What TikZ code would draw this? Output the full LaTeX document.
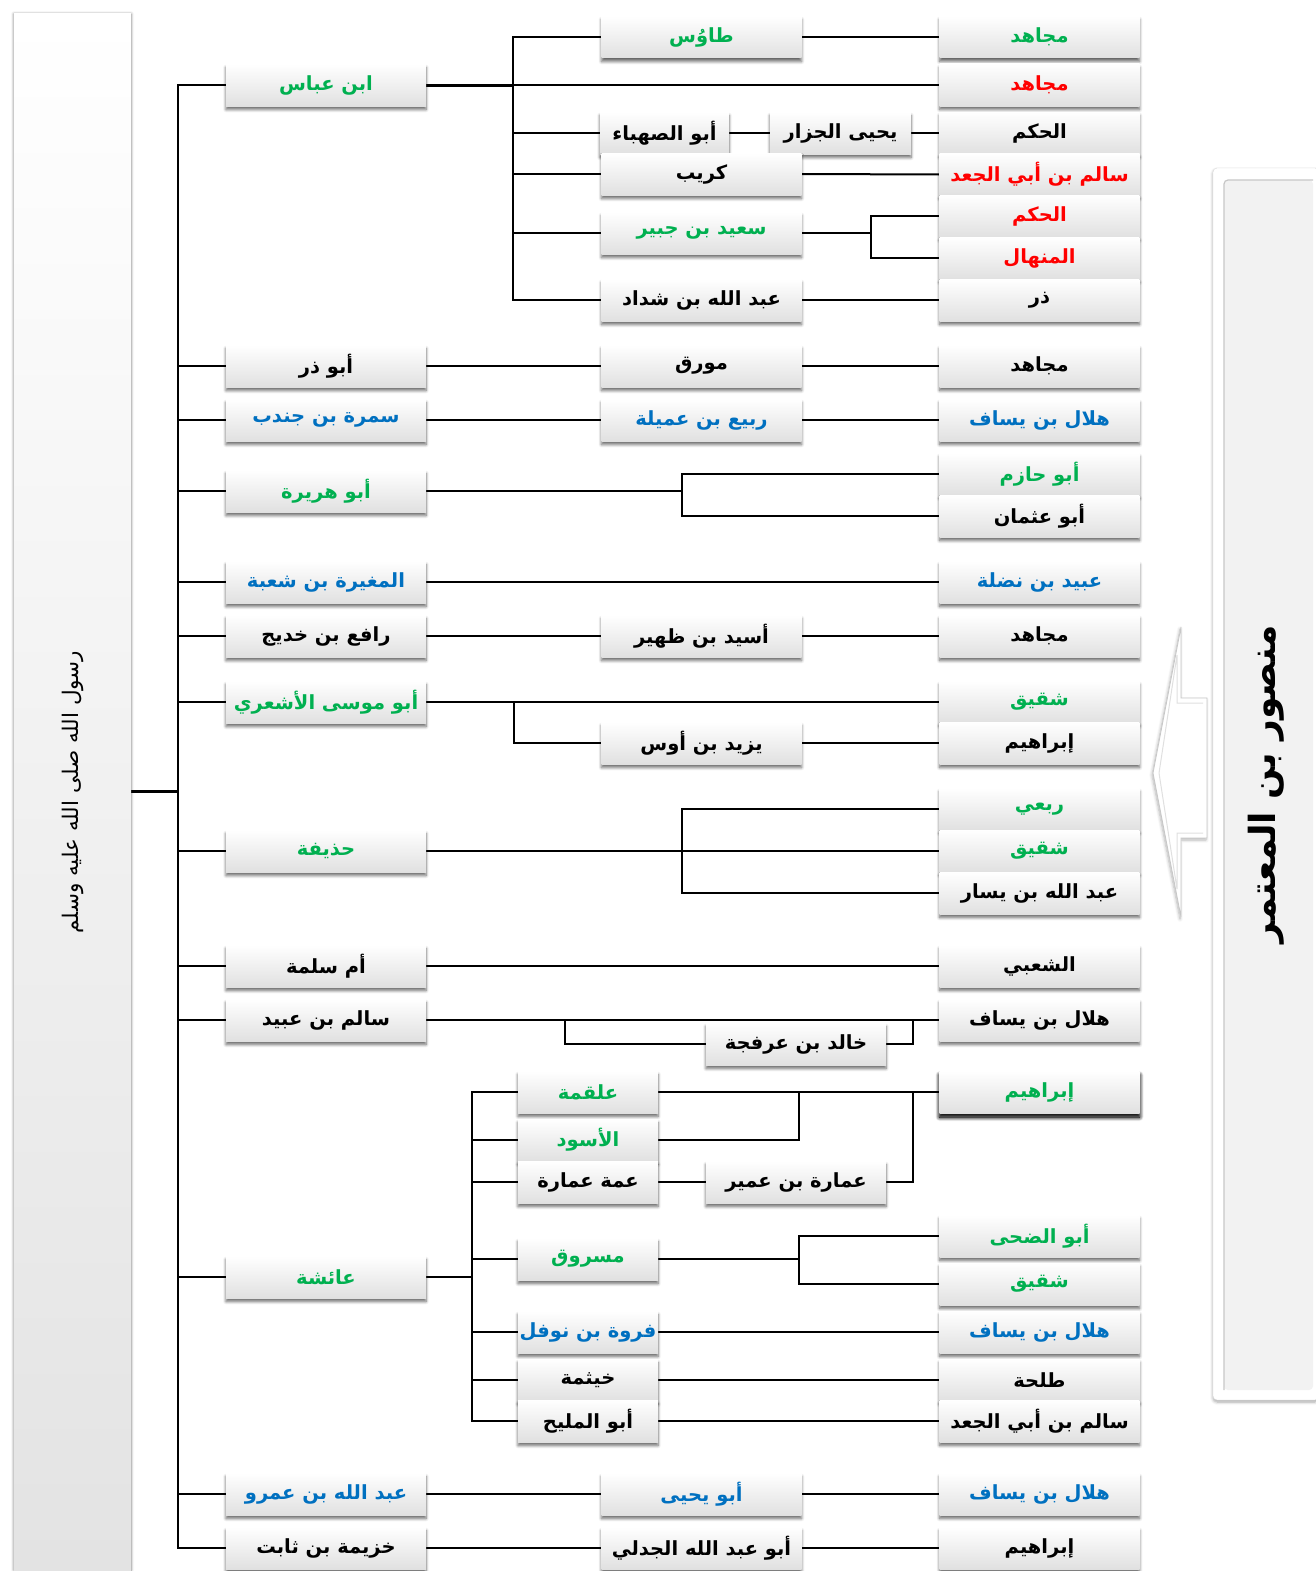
\documentclass[tikz,border=0pt]{standalone}
\usepackage{fontspec}
\usepackage{graphicx}
\usetikzlibrary{shadows.blur,backgrounds,calc}
\TeXXeTstate=1
\newfontfamily\arabicfont[Script=Arabic]{DejaVu Sans}
\newcommand\artxt[1]{{\arabicfont\bfseries\beginR #1\endR}}
\definecolor{tgreen}{HTML}{00B050}
\definecolor{tred}{HTML}{FF0000}
\definecolor{tblue}{HTML}{0070C0}
\begin{document}
\begin{tikzpicture}[x=1pt,y=-1pt,
  box/.style={rectangle, inner sep=0pt, minimum width=200pt, minimum height=42pt,
    top color=white, middle color=black!1, bottom color=black!12,
    blur shadow={shadow xshift=0pt, shadow yshift=-3.5pt, shadow blur radius=3pt, shadow blur steps=6, shadow opacity=60},
    font=\fontsize{19.5}{22}\selectfont},
  strongbox/.style={box, blur shadow={shadow xshift=0pt, shadow yshift=-4pt, shadow blur radius=4pt, shadow blur steps=6, shadow opacity=80}},
  gtext/.style={text=tgreen}, rtext/.style={text=tred}, btext/.style={text=tblue},
  link/.style={line width=2pt, black},
  thicklink/.style={line width=3pt, black},
  trunk/.style={line width=2.5pt, black}]
\useasboundingbox (0,0) rectangle (1315,1571);

% ---------- big side panels ----------
\node[rectangle, inner sep=0pt, minimum width=117pt, minimum height=1556pt,
  top color=white, bottom color=black!11,
  blur shadow={shadow xshift=0pt, shadow yshift=0pt, shadow blur radius=3pt, shadow blur steps=6, shadow opacity=50}]
  (rasul) at (72.5,792) {\rotatebox{90}{\arabicfont\fontsize{21.5}{24}\selectfont\beginR رسول الله صلى الله عليه وسلم\endR}};

\node[rectangle, inner sep=0pt, minimum width=106pt, minimum height=1232pt, rounded corners=4pt,
  fill=white, draw=black!15,
  blur shadow={shadow xshift=0pt, shadow yshift=-2pt, shadow blur radius=3pt, shadow blur steps=6, shadow opacity=35},
  path picture={\fill[black!5] ([shift={(11pt,-12pt)}]path picture bounding box.north west) rectangle ([shift={(-6pt,10pt)}]path picture bounding box.south east);
    \draw[black!22, line width=1.2pt] ([shift={(11pt,10pt)}]path picture bounding box.south west) -- ([shift={(11pt,-12pt)}]path picture bounding box.north west) -- ([shift={(-6pt,-12pt)}]path picture bounding box.north east);}]
  (mansur) at (1266,784) {\rotatebox{90}{\arabicfont\bfseries\fontsize{36}{40}\selectfont\beginR منصور بن المعتمر\endR}};

% left-pointing arrow
\path[fill=white, draw=black!22, line width=0.8pt,
  blur shadow={shadow xshift=-1pt, shadow yshift=-2pt, shadow blur radius=3pt, shadow blur steps=6, shadow opacity=30}]
  (1207,698) -- (1181,698) -- (1181,627) -- (1153,773) -- (1181,917) -- (1181,838) -- (1207,838) -- cycle;
\draw[black!12, line width=1pt] (1203,703) -- (1177,703) -- (1177,655) -- (1159,773) -- (1177,889) -- (1177,833) -- (1203,833);

% ---------- column 1 ----------
\node[box,gtext] (c1a) at (326,85)  {\artxt{ابن عباس}};
\node[box]       (c1b) at (326,366) {\artxt{أبو ذر}};
\node[box,btext] (c1c) at (326,420) {\artxt{سمرة بن جندب}};
\node[box,gtext] (c1d) at (326,491) {\artxt{أبو هريرة}};
\node[box,btext] (c1e) at (326,582) {\artxt{المغيرة بن شعبة}};
\node[box]       (c1f) at (326,636) {\artxt{رافع بن خديج}};
\node[box,gtext] (c1g) at (326,702) {\artxt{أبو موسى الأشعري}};
\node[box,gtext] (c1h) at (326,851) {\artxt{حذيفة}};
\node[box]       (c1i) at (326,966) {\artxt{أم سلمة}};
\node[box]       (c1j) at (326,1020) {\artxt{سالم بن عبيد}};
\node[box,gtext] (c1k) at (326,1277) {\artxt{عائشة}};
\node[box,btext] (c1l) at (326,1494) {\artxt{عبد الله بن عمرو}};
\node[box]       (c1m) at (326,1548) {\artxt{خزيمة بن ثابت}};

% ---------- column 2 ----------
\node[box,gtext] (tawus) at (701.5,37) {\artxt{طاوُس}};
\node[box,minimum width=129pt] (abusahba) at (664.5,133) {\artxt{أبو الصهباء}};
\node[box,minimum width=141pt] (yahya) at (840.5,133) {\artxt{يحيى الجزار}};
\node[box] (kurayb) at (701.5,174) {\artxt{كريب}};
\node[box,gtext] (saeed) at (701.5,233) {\artxt{سعيد بن جبير}};
\node[box] (shaddad) at (701.5,300) {\artxt{عبد الله بن شداد}};
\node[box] (muwarriq) at (701.5,366) {\artxt{مورق}};
\node[box,btext] (rabi) at (701.5,420) {\artxt{ربيع بن عميلة}};
\node[box] (usayd) at (701.5,636) {\artxt{أسيد بن ظهير}};
\node[box] (yazid) at (701.5,743) {\artxt{يزيد بن أوس}};
\node[box,minimum width=180pt] (khalid) at (796,1044) {\artxt{خالد بن عرفجة}};
\node[box,gtext,minimum width=140pt] (alqama) at (588,1092) {\artxt{علقمة}};
\node[box,gtext,minimum width=140pt] (aswad) at (588,1140) {\artxt{الأسود}};
\node[box,minimum width=140pt] (ammat) at (588,1182) {\artxt{عمة عمارة}};
\node[box,minimum width=180pt] (umara) at (796,1182) {\artxt{عمارة بن عمير}};
\node[box,gtext,minimum width=140pt] (masruq) at (588,1259) {\artxt{مسروق}};
\node[box,btext,minimum width=140pt] (farwa) at (588,1332) {\artxt{فروة بن نوفل}};
\node[box,minimum width=140pt] (khaythama) at (588,1380) {\artxt{خيثمة}};
\node[box,minimum width=140pt] (abumalih) at (588,1421) {\artxt{أبو المليح}};
\node[box,btext] (abuyahya) at (701.5,1494) {\artxt{أبو يحيى}};
\node[box] (jadali) at (701.5,1548) {\artxt{أبو عبد الله الجدلي}};

% ---------- column 3 ----------
\node[box,gtext] (r1) at (1039.5,37) {\artxt{مجاهد}};
\node[box,rtext] (r2) at (1039.5,85) {\artxt{مجاهد}};
\node[box] (r3) at (1039.5,133) {\artxt{الحكم}};
\node[box,rtext] (r4) at (1039.5,174.5) {\artxt{سالم بن أبي الجعد}};
\node[box,rtext] (r5) at (1039.5,216) {\artxt{الحكم}};
\node[box,rtext] (r6) at (1039.5,258) {\artxt{المنهال}};
\node[box] (r7) at (1039.5,300) {\artxt{ذر}};
\node[box] (r8) at (1039.5,366) {\artxt{مجاهد}};
\node[box,btext] (r9) at (1039.5,420) {\artxt{هلال بن يساف}};
\node[box,gtext] (r10) at (1039.5,474) {\artxt{أبو حازم}};
\node[box] (r11) at (1039.5,516) {\artxt{أبو عثمان}};
\node[box,btext] (r12) at (1039.5,582) {\artxt{عبيد بن نضلة}};
\node[box] (r13) at (1039.5,636) {\artxt{مجاهد}};
\node[box,gtext] (r14) at (1039.5,702) {\artxt{شقيق}};
\node[box] (r15) at (1039.5,743) {\artxt{إبراهيم}};
\node[box,gtext] (r16) at (1039.5,809) {\artxt{ربعي}};
\node[box,gtext] (r17) at (1039.5,851) {\artxt{شقيق}};
\node[box] (r18) at (1039.5,893) {\artxt{عبد الله بن يسار}};
\node[box] (r19) at (1039.5,966) {\artxt{الشعبي}};
\node[box] (r20) at (1039.5,1020) {\artxt{هلال بن يساف}};
\node[strongbox,gtext] (r21) at (1039.5,1092) {\artxt{إبراهيم}};
\node[box,gtext] (r22) at (1039.5,1236) {\artxt{أبو الضحى}};
\node[box,gtext] (r23) at (1039.5,1284) {\artxt{شقيق}};
\node[box,btext] (r24) at (1039.5,1332) {\artxt{هلال بن يساف}};
\node[box] (r25) at (1039.5,1380) {\artxt{طلحة}};
\node[box] (r26) at (1039.5,1421) {\artxt{سالم بن أبي الجعد}};
\node[box,btext] (r27) at (1039.5,1494) {\artxt{هلال بن يساف}};
\node[box] (r28) at (1039.5,1548) {\artxt{إبراهيم}};

% ---------- connectors ----------
\coordinate (T) at (178,791);
\coordinate (sA) at (513,85);
\coordinate (sB) at (871,233);
\coordinate (sC) at (682,491);
\coordinate (sD) at (514,702);
\coordinate (sE) at (682,851);
\coordinate (sF) at (565,1020);
\coordinate (sG) at (913,1020);
\coordinate (sH) at (472,1277);
\coordinate (sI) at (799,1092);
\coordinate (sJ) at (913,1092);
\coordinate (sK) at (799,1259);

\begin{scope}[on background layer]
\draw[thicklink] (rasul.east |- T) -- (T);
\foreach \n in {c1a,c1b,c1c,c1d,c1e,c1f,c1g,c1h,c1i,c1j,c1k,c1l,c1m}
  \draw[trunk] (\n.west) -| (T);

% Ibn Abbas
\draw[thicklink] (c1a.east) -- (sA);
\draw[link] (sA) -- (r2.west);
\foreach \n in {tawus,abusahba,kurayb,saeed,shaddad}
  \draw[link] (\n.west) -| (sA);
\draw[link] (tawus.east) -- (r1.west);
\draw[link] (abusahba.east) -- (yahya.west);
\draw[link] (yahya.east) -- (r3.west);
\draw[link] (kurayb.east) -- (r4.west);
\draw[link] (saeed.east) -- (sB);
\draw[link] (r5.west) -| (sB);
\draw[link] (r6.west) -| (sB);
\draw[link] (shaddad.east) -- (r7.west);

% Abu Dharr, Samura
\draw[link] (c1b.east) -- (muwarriq.west);
\draw[link] (muwarriq.east) -- (r8.west);
\draw[link] (c1c.east) -- (rabi.west);
\draw[link] (rabi.east) -- (r9.west);

% Abu Hurayra
\draw[link] (c1d.east) -- (sC);
\draw[link] (r10.west) -| (sC);
\draw[link] (r11.west) -| (sC);

% Mughira, Rafi
\draw[link] (c1e.east) -- (r12.west);
\draw[link] (c1f.east) -- (usayd.west);
\draw[link] (usayd.east) -- (r13.west);

% Abu Musa
\draw[link] (c1g.east) -- (r14.west);
\draw[link] (yazid.west) -| (sD);
\draw[link] (yazid.east) -- (r15.west);

% Hudhayfa
\draw[link] (c1h.east) -- (sE);
\draw[link] (r16.west) -| (sE);
\draw[link] (r17.west) -| (sE);
\draw[link] (r18.west) -| (sE);

% Umm Salama, Salim ibn Ubayd
\draw[link] (c1i.east) -- (r19.west);
\draw[link] (c1j.east) -- (r20.west);
\draw[link] (khalid.west) -| (sF);
\draw[link] (khalid.east) -| (sG);

% Aisha
\draw[link] (c1k.east) -- (sH);
\foreach \n in {alqama,aswad,ammat,masruq,farwa,khaythama,abumalih}
  \draw[link] (\n.west) -| (sH);
\draw[link] (alqama.east) -- (r21.west);
\draw[link] (aswad.east) -| (sI);
\draw[link] (ammat.east) -- (umara.west);
\draw[link] (umara.east) -| (sJ);
\draw[link] (masruq.east) -- (sK);
\draw[link] (r22.west) -| (sK);
\draw[link] (r23.west) -| (sK);
\draw[link] (farwa.east) -- (r24.west);
\draw[link] (khaythama.east) -- (r25.west);
\draw[link] (abumalih.east) -- (r26.west);

% Abdallah ibn Amr, Khuzayma
\draw[link] (c1l.east) -- (abuyahya.west);
\draw[link] (abuyahya.east) -- (r27.west);
\draw[link] (c1m.east) -- (jadali.west);
\draw[link] (jadali.east) -- (r28.west);
\end{scope}
\end{tikzpicture}
\end{document}
